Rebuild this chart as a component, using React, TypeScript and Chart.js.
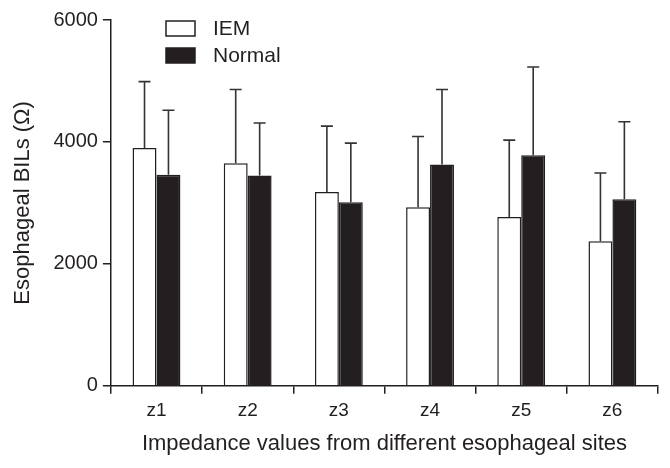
import React, { useEffect, useRef } from "react";
import { Chart, registerables } from "chart.js";

Chart.register(...registerables);

const categories = ["z1", "z2", "z3", "z4", "z5", "z6"];
const iemMean = [3900, 3650, 3180, 2930, 2770, 2370];
const iemSD = [1090, 1210, 1080, 1160, 1260, 1120];
const normalMean = [3460, 3450, 3010, 3630, 3780, 3060];
const normalSD = [1060, 860, 970, 1230, 1450, 1270];
const yTicks = [0, 2000, 4000, 6000];

const INK = "#231f20";
const FONT = "'Liberation Sans', Arial, sans-serif";

const errorBars = {
  id: "errorBars",
  afterDatasetsDraw(chart: any) {
    const ctx = chart.ctx;
    const y = chart.scales.y;
    const sds = [iemSD, normalSD];
    chart.data.datasets.forEach((ds: any, di: number) => {
      const meta = chart.getDatasetMeta(di);
      meta.data.forEach((bar: any, i: number) => {
        const top = y.getPixelForValue(ds.data[i] + sds[di][i]);
        ctx.save();
        ctx.strokeStyle = "#333";
        ctx.lineWidth = 1.6;
        ctx.beginPath();
        ctx.moveTo(bar.x, bar.y);
        ctx.lineTo(bar.x, top);
        ctx.moveTo(bar.x - 6, top);
        ctx.lineTo(bar.x + 6, top);
        ctx.stroke();
        ctx.restore();
      });
    });
  },
};

const customLegend = {
  id: "customLegend",
  afterDraw(chart: any) {
    const ctx = chart.ctx;
    const items = chart.data.datasets;
    ctx.save();
    ctx.font = `21px ${FONT}`;
    ctx.textBaseline = "middle";
    items.forEach((ds: any, i: number) => {
      const bx = 166;
      const by = 21 + i * 27;
      ctx.fillStyle = ds.backgroundColor;
      ctx.fillRect(bx, by, 29, 15);
      ctx.strokeStyle = INK;
      ctx.lineWidth = 1.5;
      ctx.strokeRect(bx, by, 29, 15);
      ctx.fillStyle = INK;
      ctx.fillText(ds.label, 213, by + 8);
    });
    ctx.restore();
  },
};

export default function App() {
  const ref = useRef<HTMLCanvasElement>(null);
  useEffect(() => {
    if (!ref.current) return;
    const chart = new Chart(ref.current, {
      type: "bar",
      data: {
        labels: categories,
        datasets: [
          {
            label: "IEM",
            data: iemMean,
            backgroundColor: "#ffffff",
            borderColor: INK,
            borderWidth: 1.5,
            categoryPercentage: 0.525,
            barPercentage: 1,
          },
          {
            label: "Normal",
            data: normalMean,
            backgroundColor: INK,
            borderColor: INK,
            borderWidth: 1.5,
            categoryPercentage: 0.525,
            barPercentage: 1,
          },
        ],
      },
      options: {
        responsive: false,
        animation: false,
        layout: { padding: { top: 20, right: 12, left: 6, bottom: 7 } },
        plugins: {
          legend: { display: false },
          tooltip: { enabled: false },
        },
        scales: {
          x: {
            grid: {
              drawOnChartArea: false,
              drawTicks: true,
              tickLength: 8,
              color: INK,
              lineWidth: 1.5,
              offset: true,
            },
            border: { display: true, color: INK, width: 1.5 },
            ticks: { color: INK, font: { family: FONT, size: 19 }, padding: 6 },
            title: {
              display: true,
              text: "Impedance values from different esophageal sites",
              color: INK,
              font: { family: FONT, size: 22 },
              padding: { top: 2 },
            },
          },
          y: {
            min: 0,
            max: 6000,
            afterBuildTicks(scale: any) {
              scale.ticks = yTicks.map((v) => ({ value: v }));
            },
            grid: {
              drawOnChartArea: false,
              drawTicks: true,
              tickLength: 8,
              color: INK,
              lineWidth: 1.5,
            },
            border: { display: true, color: INK, width: 1.5 },
            ticks: {
              color: INK,
              font: { family: FONT, size: 20 },
              padding: 5,
              callback: (v: any) => String(v),
            },
            title: {
              display: true,
              text: "Esophageal BILs (Ω)",
              color: INK,
              font: { family: FONT, size: 22 },
              padding: { bottom: 12 },
            },
          },
        },
      },
      plugins: [errorBars, customLegend],
    });
    return () => chart.destroy();
  }, []);
  return (
    <div style={{ position: "fixed", left: 0, top: 0, width: 670, height: 468, background: "#fff" }}>
      <canvas ref={ref} width={670} height={468} />
    </div>
  );
}
